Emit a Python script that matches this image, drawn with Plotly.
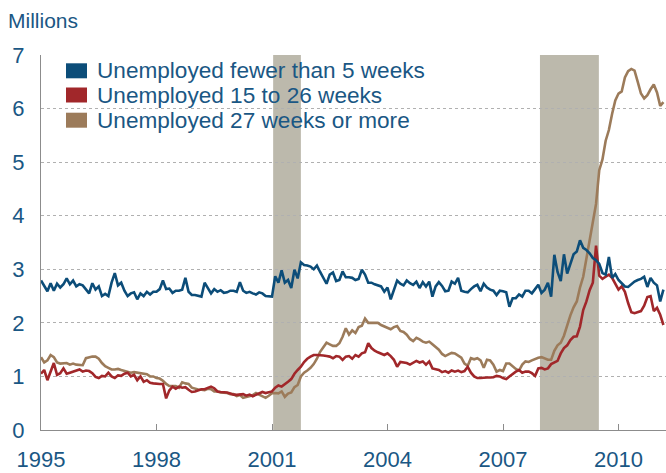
import plotly.graph_objects as go

# Monthly values, millions, Jan 1995 - Mar 2011
lt5_weeks = {
    1995: [2.79, 2.68, 2.59, 2.74, 2.60, 2.73, 2.66, 2.72, 2.83, 2.72, 2.79, 2.68],
    1996: [2.72, 2.70, 2.62, 2.55, 2.74, 2.62, 2.68, 2.50, 2.54, 2.50, 2.75, 2.93],
    1997: [2.70, 2.75, 2.60, 2.50, 2.55, 2.57, 2.44, 2.55, 2.50, 2.58, 2.53, 2.58],
    1998: [2.58, 2.63, 2.79, 2.63, 2.64, 2.56, 2.60, 2.60, 2.62, 2.84, 2.58, 2.52],
    1999: [2.52, 2.50, 2.49, 2.75, 2.65, 2.55, 2.63, 2.58, 2.61, 2.56, 2.57, 2.60],
    2000: [2.60, 2.58, 2.76, 2.60, 2.56, 2.58, 2.55, 2.53, 2.57, 2.55, 2.50, 2.49],
    2001: [2.49, 2.87, 2.75, 2.98, 2.75, 2.80, 2.65, 2.99, 2.83, 3.13, 3.08, 3.07],
    2002: [3.05, 3.00, 3.07, 2.95, 2.85, 2.73, 2.90, 2.94, 2.78, 2.80, 2.96, 2.85],
    2003: [2.85, 2.84, 2.80, 2.82, 2.99, 2.90, 2.75, 2.75, 2.72, 2.70, 2.68, 2.58],
    2004: [2.66, 2.44, 2.63, 2.79, 2.73, 2.70, 2.79, 2.74, 2.71, 2.77, 2.65, 2.76],
    2005: [2.68, 2.77, 2.49, 2.68, 2.76, 2.69, 2.59, 2.60, 2.77, 2.73, 2.84, 2.60],
    2006: [2.58, 2.57, 2.63, 2.68, 2.71, 2.59, 2.73, 2.66, 2.62, 2.60, 2.52, 2.60],
    2007: [2.59, 2.57, 2.30, 2.46, 2.46, 2.53, 2.49, 2.60, 2.60, 2.55, 2.63, 2.71],
    2008: [2.56, 2.62, 2.75, 2.49, 3.27, 2.95, 2.78, 3.28, 2.92, 3.12, 3.28, 3.33],
    2009: [3.54, 3.40, 3.36, 3.30, 3.21, 3.17, 3.10, 2.93, 2.90, 3.23, 2.84, 2.91],
    2010: [2.80, 2.74, 2.68, 2.67, 2.72, 2.77, 2.80, 2.82, 2.86, 2.67, 2.84, 2.75],
    2011: [2.70, 2.40, 2.62],
}
w15_26 = {
    1995: [1.05, 1.12, 0.93, 1.10, 1.25, 1.03, 1.06, 1.15, 1.05, 1.07, 1.09, 1.11],
    1996: [1.13, 1.09, 1.11, 1.10, 1.06, 0.99, 0.97, 1.01, 1.00, 1.07, 1.00, 0.97],
    1997: [1.02, 1.01, 1.05, 1.07, 1.00, 1.03, 0.93, 1.00, 0.90, 0.93, 0.88, 0.87],
    1998: [0.86, 0.86, 0.86, 0.59, 0.74, 0.81, 0.77, 0.81, 0.79, 0.80, 0.75, 0.71],
    1999: [0.72, 0.74, 0.76, 0.76, 0.78, 0.81, 0.78, 0.72, 0.71, 0.71, 0.70, 0.68],
    2000: [0.66, 0.655, 0.66, 0.67, 0.64, 0.66, 0.63, 0.66, 0.68, 0.71, 0.69, 0.70],
    2001: [0.72, 0.79, 0.83, 0.81, 0.85, 0.90, 0.95, 1.05, 1.12, 1.18, 1.27, 1.33],
    2002: [1.37, 1.40, 1.40, 1.40, 1.39, 1.38, 1.37, 1.34, 1.38, 1.37, 1.31, 1.37],
    2003: [1.38, 1.33, 1.40, 1.37, 1.43, 1.45, 1.62, 1.53, 1.48, 1.45, 1.42, 1.40],
    2004: [1.43, 1.38, 1.31, 1.18, 1.27, 1.26, 1.25, 1.22, 1.25, 1.29, 1.26, 1.28],
    2005: [1.22, 1.28, 1.15, 1.14, 1.12, 1.08, 1.10, 1.07, 1.11, 1.09, 1.11, 1.08],
    2006: [1.10, 1.18, 1.07, 1.00, 0.97, 0.97, 0.98, 0.98, 0.98, 0.985, 1.01, 1.00],
    2007: [0.97, 0.95, 1.00, 1.05, 1.09, 1.12, 1.07, 1.09, 1.09, 1.06, 1.01, 1.15],
    2008: [1.16, 1.13, 1.15, 1.23, 1.26, 1.29, 1.43, 1.53, 1.58, 1.68, 1.74, 1.75],
    2009: [1.93, 2.24, 2.40, 2.61, 2.75, 3.44, 2.88, 2.82, 2.86, 2.90, 2.84, 2.72],
    2010: [2.62, 2.68, 2.58, 2.37, 2.20, 2.18, 2.20, 2.22, 2.32, 2.48, 2.50, 2.22],
    2011: [2.28, 2.15, 1.96],
}
w27_plus = {
    1995: [1.36, 1.26, 1.30, 1.40, 1.36, 1.26, 1.24, 1.24, 1.25, 1.22, 1.24, 1.22],
    1996: [1.22, 1.21, 1.34, 1.36, 1.37, 1.37, 1.33, 1.25, 1.19, 1.16, 1.13, 1.13],
    1997: [1.14, 1.12, 1.10, 1.09, 1.07, 1.08, 1.07, 1.06, 1.05, 1.04, 1.00, 1.00],
    1998: [0.97, 0.96, 0.92, 0.86, 0.82, 0.815, 0.82, 0.79, 0.89, 0.87, 0.86, 0.79],
    1999: [0.77, 0.755, 0.75, 0.745, 0.77, 0.76, 0.72, 0.72, 0.70, 0.70, 0.69, 0.67],
    2000: [0.67, 0.635, 0.654, 0.60, 0.62, 0.64, 0.65, 0.69, 0.66, 0.63, 0.60, 0.64],
    2001: [0.685, 0.69, 0.685, 0.72, 0.62, 0.68, 0.70, 0.80, 0.84, 1.00, 1.07, 1.11],
    2002: [1.16, 1.23, 1.33, 1.46, 1.55, 1.63, 1.60, 1.57, 1.57, 1.62, 1.74, 1.90],
    2003: [1.78, 1.86, 1.81, 1.92, 1.945, 2.08, 2.00, 2.00, 1.99, 2.00, 1.96, 1.93],
    2004: [1.90, 1.88, 1.92, 1.94, 1.85, 1.83, 1.78, 1.70, 1.66, 1.72, 1.69, 1.65],
    2005: [1.63, 1.65, 1.60, 1.55, 1.50, 1.42, 1.38, 1.41, 1.44, 1.43, 1.39, 1.35],
    2006: [1.24, 1.20, 1.34, 1.32, 1.34, 1.30, 1.16, 1.31, 1.30, 1.22, 1.09, 1.12],
    2007: [1.10, 1.24, 1.24, 1.19, 1.14, 1.11, 1.22, 1.28, 1.27, 1.30, 1.33, 1.35],
    2008: [1.36, 1.33, 1.31, 1.31, 1.48, 1.58, 1.63, 1.76, 1.96, 2.14, 2.29, 2.40],
    2009: [2.66, 2.86, 3.20, 3.55, 3.87, 4.22, 4.85, 5.05, 5.40, 5.60, 5.90, 6.15],
    2010: [6.28, 6.32, 6.58, 6.70, 6.74, 6.71, 6.50, 6.28, 6.19, 6.25, 6.36, 6.45],
    2011: [6.30, 6.05, 6.12],
}

series_names = ["Unemployed fewer than 5 weeks",
                "Unemployed 15 to 26 weeks",
                "Unemployed 27 weeks or more"]
series_colors = ["#0c4d79", "#a1272a", "#9c7b5a"]
recessions = [(2001.03, 2001.75), (2007.96, 2009.49)]
x_ticks = [1995, 1998, 2001, 2004, 2007, 2010]
y_ticks = [0, 1, 2, 3, 4, 5, 6, 7]

TEXT = "#1a5784"
FONT = "Liberation Sans, Arial, sans-serif"


def flatten(d):
    xs, ys = [], []
    for yr in sorted(d):
        for i, v in enumerate(d[yr]):
            xs.append(yr + i / 12.0)
            ys.append(v)
    return xs, ys


fig = go.Figure()
for data, name, col in zip([w27_plus, w15_26, lt5_weeks],
                           [series_names[2], series_names[1], series_names[0]],
                           [series_colors[2], series_colors[1], series_colors[0]]):
    xs, ys = flatten(data)
    fig.add_trace(go.Scatter(x=xs, y=ys, mode="lines", name=name,
                             line=dict(color=col, width=2.6),
                             showlegend=False, hoverinfo="skip"))

shapes = []
for a, b in recessions:
    shapes.append(dict(type="rect", xref="x", yref="paper", x0=a, x1=b,
                       y0=0, y1=1, fillcolor="#bcb9ac", line=dict(width=0),
                       layer="between"))

# manual legend (squares + text)
L, T, PW, PH = 41, 55, 625, 375
annotations = []
row_centers = [70.8, 95.0, 120.2]
for name, col, cy in zip(series_names, series_colors, row_centers):
    shapes.append(dict(type="rect", xref="paper", yref="paper",
                       x0=(66 - L) / PW, x1=(87 - L) / PW,
                       y0=(T + PH - (cy + 7.5)) / PH, y1=(T + PH - (cy - 7.5)) / PH,
                       fillcolor=col, line=dict(width=0), layer="above"))
    annotations.append(dict(xref="paper", yref="paper", x=(95 - L) / PW,
                            y=(T + PH - cy) / PH, xanchor="left", yanchor="middle",
                            text=name, showarrow=False,
                            font=dict(family=FONT, size=22.6, color=TEXT)))

annotations.append(dict(xref="paper", yref="paper", x=(6 - L) / PW,
                        y=(T + PH - 20) / PH, xanchor="left", yanchor="middle",
                        text="Millions", showarrow=False,
                        font=dict(family=FONT, size=21, color=TEXT)))

fig.update_layout(
    width=666, height=473,
    margin=dict(l=L, r=0, t=T, b=473 - T - PH, pad=0),
    plot_bgcolor="white", paper_bgcolor="white",
    font=dict(family=FONT, size=22, color=TEXT),
    shapes=shapes, annotations=annotations,
    showlegend=False,
)
fig.update_xaxes(range=[1995, 1995 + 625 / 38.5], tickmode="array",
                 tickvals=x_ticks, ticktext=[str(t) for t in x_ticks],
                 ticks="inside", ticklen=6, tickcolor="#8c8c8c", tickwidth=1,
                 showline=True, linecolor="#8c8c8c", linewidth=1,
                 showgrid=False, zeroline=False, ticklabelstandoff=10,
                 tickfont=dict(family=FONT, size=22, color=TEXT))
fig.update_yaxes(range=[0, 7], tickmode="array", tickvals=y_ticks,
                 ticks="", showline=True, linecolor="#8c8c8c", linewidth=1,
                 showgrid=True, gridcolor="#b0b0b0", gridwidth=1,
                 griddash="3px,3px", zeroline=False, ticklabelstandoff=11,
                 tickfont=dict(family=FONT, size=22, color=TEXT))

fig.write_html("out.html", config={"displayModeBar": False},
               post_script="document.body.style.margin='0px';document.body.style.overflow='hidden';")
